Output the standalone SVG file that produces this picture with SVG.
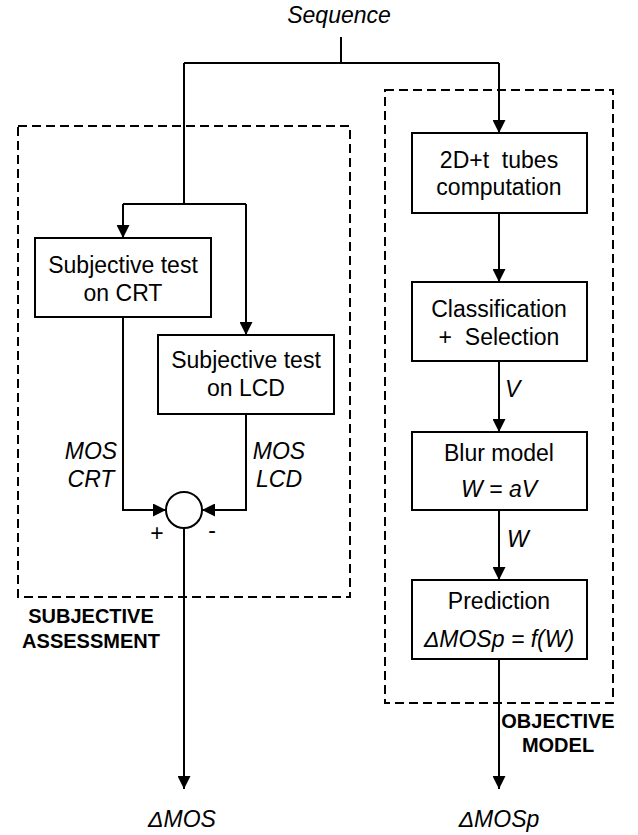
<svg xmlns="http://www.w3.org/2000/svg" width="638" height="835" viewBox="0 0 638 835">
<defs>
<style>
.box{fill:#fff;stroke:#000;stroke-width:2}
.ln{fill:none;stroke:#000;stroke-width:2}
.dash{fill:none;stroke:#000;stroke-width:2;stroke-dasharray:9 5}
.t{font-family:"Liberation Sans",Arial,Helvetica,sans-serif;font-size:23px;text-anchor:middle;fill:#000}
.i{font-style:italic}
.b{font-weight:bold;font-size:20px}
</style>
<marker id="ah" markerUnits="userSpaceOnUse" markerWidth="13" markerHeight="13" refX="13" refY="6.5" orient="auto">
<path d="M0,0 L13,6.5 L0,13 Z" fill="#000"/>
</marker>
</defs>
<rect width="638" height="835" fill="#fff"/>
<g id="groups">
<rect class="dash" x="18" y="126" width="332" height="471"/>
<rect class="dash" x="385" y="90" width="228" height="613"/>
<text class="t b" x="91" y="623">SUBJECTIVE</text>
<text class="t b" x="91" y="648">ASSESSMENT</text>
<text class="t b" x="558" y="728">OBJECTIVE</text>
<text class="t b" x="558" y="752">MODEL</text>
</g>
<g id="connectors">
<path class="ln" d="M341,37 V63"/>
<path class="ln" d="M184,63 H499"/>
<path class="ln" d="M499,63 V133" marker-end="url(#ah)"/>
<path class="ln" d="M184,63 V204"/>
<path class="ln" d="M123,204 H246"/>
<path class="ln" d="M123,204 V238" marker-end="url(#ah)"/>
<path class="ln" d="M246,204 V335" marker-end="url(#ah)"/>
<path class="ln" d="M499,213 V282" marker-end="url(#ah)"/>
<path class="ln" d="M499,361 V432" marker-end="url(#ah)"/>
<path class="ln" d="M499,510 V580" marker-end="url(#ah)"/>
<path class="ln" d="M499,659 V789" marker-end="url(#ah)"/>
<path class="ln" d="M123,317 V510 H166" marker-end="url(#ah)"/>
<path class="ln" d="M246,414 V510 H202" marker-end="url(#ah)"/>
<path class="ln" d="M184,528 V789" marker-end="url(#ah)"/>
<text class="t i" x="91" y="459">MOS</text>
<text class="t i" x="91" y="487">CRT</text>
<text class="t i" x="279" y="459">MOS</text>
<text class="t i" x="279" y="487">LCD</text>
<text class="t i" x="505" y="397" style="text-anchor:start">V</text>
<text class="t i" x="507" y="547" style="text-anchor:start">W</text>
</g>
<g id="sequence"><text class="t i" x="339" y="23">Sequence</text></g>
<g id="crt">
<rect class="box" x="35" y="238" width="176" height="79"/>
<text class="t" x="123" y="273">Subjective test</text>
<text class="t" x="123" y="301">on CRT</text>
</g>
<g id="lcd">
<rect class="box" x="158" y="335" width="176" height="79"/>
<text class="t" x="246" y="368">Subjective test</text>
<text class="t" x="246" y="396">on LCD</text>
</g>
<g id="sum">
<circle class="box" cx="184" cy="510" r="18"/>
<text class="t" x="157" y="541">+</text>
<text class="t" x="212" y="538">-</text>
</g>
<g id="tubes">
<rect class="box" x="412" y="133" width="175" height="80"/>
<text class="t" x="499" y="168" xml:space="preserve">2D+t  tubes</text>
<text class="t" x="499" y="195">computation</text>
</g>
<g id="classification">
<rect class="box" x="412" y="282" width="175" height="79"/>
<text class="t" x="499" y="317">Classification</text>
<text class="t" x="499" y="345" xml:space="preserve">+  Selection</text>
</g>
<g id="blur">
<rect class="box" x="412" y="432" width="175" height="78"/>
<text class="t" x="499" y="461">Blur model</text>
<text class="t i" x="499" y="497">W = aV</text>
</g>
<g id="prediction">
<rect class="box" x="412" y="580" width="175" height="79"/>
<text class="t" x="499" y="609">Prediction</text>
<text class="t i" x="499" y="647">ΔMOSp = f(W)</text>
</g>
<g id="outputs">
<text class="t i" x="182" y="827">ΔMOS</text>
<text class="t i" x="499" y="827">ΔMOSp</text>
</g>
</svg>
